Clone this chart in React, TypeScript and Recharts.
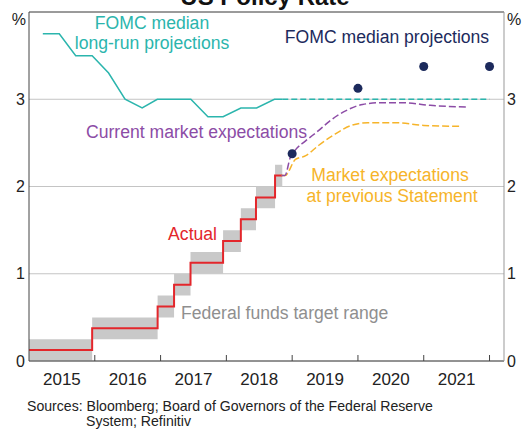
import React from 'react';
import { ComposedChart, Line, Area, Scatter, XAxis, YAxis, CartesianGrid, ReferenceLine } from 'recharts';

const FONT = '"Liberation Sans", Arial, Helvetica, sans-serif';

// Fed funds target range: decision dates (decimal years), lower/upper bound, actual (mid)
const rangeDates = [2015.0, 2015.96, 2016.955, 2017.205, 2017.455, 2017.95, 2018.22, 2018.45, 2018.74, 2018.85];
const rangeLow = [0, 0.25, 0.5, 0.75, 1.0, 1.25, 1.5, 1.75, 2.0, 2.0];
const rangeHigh = [0.25, 0.5, 0.75, 1.0, 1.25, 1.5, 1.75, 2.0, 2.25, 2.25];
const actualRate = [0.125, 0.375, 0.625, 0.875, 1.125, 1.375, 1.625, 1.875, 2.125, 2.125];

// FOMC median long-run projection
const longRunDates = [2015.21, 2015.46, 2015.71, 2015.96, 2016.21, 2016.46, 2016.72, 2016.95, 2017.2, 2017.46, 2017.72, 2017.95, 2018.22, 2018.46, 2018.73, 2018.85];
const longRunValues = [3.75, 3.75, 3.5, 3.5, 3.3, 3.0, 2.9, 3.0, 3.0, 3.0, 2.8, 2.8, 2.9, 2.9, 3.0, 3.0];
const longRunAheadDates = [2018.85, 2022.0];
const longRunAheadValues = [3.0, 3.0];

// FOMC median projections (end of year)
const fomcDates = [2019.0, 2020.0, 2021.0, 2022.0];
const fomcValues = [2.375, 3.125, 3.375, 3.375];

// Current market expectations
const currentDates = [2018.84, 2018.89, 2018.97, 2019.05, 2019.2, 2019.4, 2019.57, 2019.82, 2020.07, 2020.35, 2020.7, 2021.1, 2021.65];
const currentValues = [2.125, 2.125, 2.33, 2.42, 2.52, 2.64, 2.75, 2.87, 2.94, 2.96, 2.96, 2.93, 2.91];

// Market expectations at previous Statement
const previousDates = [2018.84, 2018.89, 2019.05, 2019.2, 2019.4, 2019.65, 2019.9, 2020.15, 2020.6, 2021.0, 2021.57];
const previousValues = [2.125, 2.125, 2.31, 2.35, 2.47, 2.6, 2.7, 2.73, 2.73, 2.7, 2.69];

const yearTicks = [2015, 2016, 2017, 2018, 2019, 2020, 2021, 2022];
const yearLabels = ['2015', '2016', '2017', '2018', '2019', '2020', '2021', ''];
const yTicks = [0, 1, 2, 3];

const X_MIN = 2015;
const X_MAX = 2022.22;
const W = 523;
const H = 432;
const LEFT_W = 29;
const RIGHT_W = 19;
const PX_PER_YEAR = (W - LEFT_W - RIGHT_W) / (X_MAX - X_MIN);

const bandData = rangeDates.map((t, i) => ({ t, range: [rangeLow[i], rangeHigh[i]] }));
const actualData = rangeDates.map((t, i) => ({ t, v: actualRate[i] }));
const longRunData = longRunDates.map((t, i) => ({ t, v: longRunValues[i] }));
const longRunAheadData = longRunAheadDates.map((t, i) => ({ t, v: longRunAheadValues[i] }));
const fomcData = fomcDates.map((t, i) => ({ t, v: fomcValues[i] }));
const currentData = currentDates.map((t, i) => ({ t, v: currentValues[i] }));
const previousData = previousDates.map((t, i) => ({ t, v: previousValues[i] }));

const YearTick = (props: any) => {
  const { x, y, payload } = props;
  const label = yearLabels[yearTicks.indexOf(payload.value)];
  return (
    <g>
      {payload.value > X_MIN && <line x1={x} x2={x} y1={y} y2={y - 6} stroke="#444" strokeWidth={1} />}
      {label && (
        <text x={x + PX_PER_YEAR / 2} y={y + 24} textAnchor="middle" fontSize={17} fontFamily={FONT} fill="#222">
          {label}
        </text>
      )}
    </g>
  );
};

const tickStyle = { fontSize: 16, fontFamily: FONT, fill: '#222' };

const App: React.FC = () => {
  return (
    <div style={{ position: 'absolute', left: 0, top: 0, width: W, height: H, background: '#fff' }}>
      <ComposedChart width={W} height={H} margin={{ top: 12, right: 0, bottom: 0, left: 0 }}>
        <CartesianGrid vertical={false} stroke="#c4c4c4" />
        <XAxis
          dataKey="t"
          type="number"
          domain={[X_MIN, X_MAX]}
          allowDataOverflow
          ticks={yearTicks}
          interval={0}
          height={71}
          tickSize={0}
          tickMargin={0}
          tickLine={false}
          axisLine={{ stroke: '#444' }}
          tick={YearTick}
        />
        <YAxis
          domain={[0, 4]}
          ticks={yTicks}
          allowDataOverflow
          width={LEFT_W}
          tickSize={0}
          tickMargin={4}
          tickLine={false}
          axisLine={{ stroke: '#444' }}
          tick={tickStyle}
        />
        <YAxis
          yAxisId="right"
          orientation="right"
          domain={[0, 4]}
          ticks={yTicks}
          allowDataOverflow
          width={RIGHT_W}
          tickSize={0}
          tickMargin={3}
          tickLine={false}
          axisLine={{ stroke: '#999' }}
          tick={tickStyle}
        />
        <ReferenceLine y={4} stroke="#555" />
        <Area
          data={bandData}
          dataKey="range"
          type="stepAfter"
          fill="#c9c9c9"
          fillOpacity={1}
          stroke="none"
          dot={false}
          activeDot={false}
          isAnimationActive={false}
        />
        <Line data={longRunData} dataKey="v" type="linear" stroke="#2bb5ad" strokeWidth={1.5} dot={false} activeDot={false} isAnimationActive={false} />
        <Line data={longRunAheadData} dataKey="v" type="linear" stroke="#2bb5ad" strokeWidth={1.5} strokeDasharray="6 3" dot={false} activeDot={false} isAnimationActive={false} />
        <Line data={actualData} dataKey="v" type="stepAfter" stroke="#e3262b" strokeWidth={2} dot={false} activeDot={false} isAnimationActive={false} />
        <Line data={previousData} dataKey="v" type="monotone" stroke="#f6b42a" strokeWidth={1.5} strokeDasharray="7 3" dot={false} activeDot={false} isAnimationActive={false} />
        <Line data={currentData} dataKey="v" type="monotone" stroke="#8c4ca6" strokeWidth={1.5} strokeDasharray="7 3" dot={false} activeDot={false} isAnimationActive={false} />
        <Scatter data={fomcData} dataKey="v" fill="#1c2a5c" isAnimationActive={false} />
      </ComposedChart>
      <svg width={W} height={H} style={{ position: 'absolute', left: 0, top: 0, pointerEvents: 'none' }} fontFamily={FONT}>
        <text x={265} y={5} textAnchor="middle" fontSize={24} fontWeight="bold" fill="#111">US Policy Rate</text>
        <text x={26} y={25} textAnchor="end" fontSize={16} fill="#222">%</text>
        <text x={507} y={25} textAnchor="start" fontSize={16} fill="#222">%</text>
        <text x={152} y={29} textAnchor="middle" fontSize={17.6} fill="#2bb5ad">FOMC median</text>
        <text x={152} y={49} textAnchor="middle" fontSize={17.6} fill="#2bb5ad">long-run projections</text>
        <text x={387} y={43} textAnchor="middle" fontSize={17.6} fill="#1c2a5c">FOMC median projections</text>
        <text x={86} y={138} textAnchor="start" fontSize={17.6} fill="#8c4ca6">Current market expectations</text>
        <text x={390} y={181} textAnchor="middle" fontSize={17.6} fill="#f6b42a">Market expectations</text>
        <text x={392} y={202} textAnchor="middle" fontSize={17.6} fill="#f6b42a">at previous Statement</text>
        <text x={217} y={240} textAnchor="end" fontSize={17.6} fill="#e3262b">Actual</text>
        <text x={181} y={319} textAnchor="start" fontSize={17.6} fill="#8f8f8f">Federal funds target range</text>
        <text x={27} y={411} textAnchor="start" fontSize={14.1} fill="#222">Sources: Bloomberg; Board of Governors of the Federal Reserve</text>
        <text x={86} y={426} textAnchor="start" fontSize={14.1} fill="#222">System; Refinitiv</text>
      </svg>
    </div>
  );
};

export default App;
